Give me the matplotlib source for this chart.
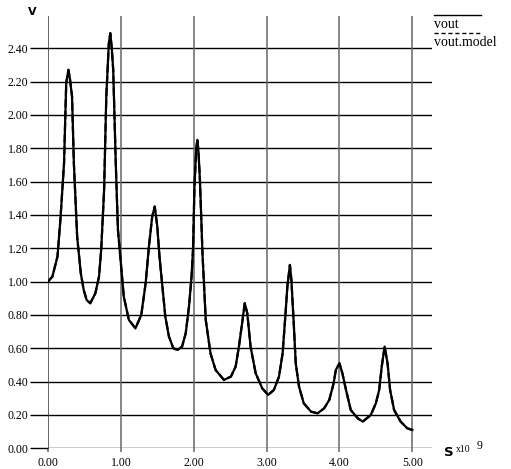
import matplotlib
matplotlib.use("Agg")
import matplotlib.pyplot as plt
from matplotlib.lines import Line2D

# time in units of 1e-9 s, voltage in V
t = [0.00, 0.06, 0.13, 0.17, 0.22, 0.25, 0.28, 0.30, 0.33, 0.355, 0.40, 0.45,
     0.49, 0.53, 0.58, 0.65, 0.70, 0.73, 0.77, 0.80, 0.835, 0.855, 0.875, 0.895,
     0.93, 0.96, 1.00, 1.04, 1.11, 1.20, 1.28, 1.34, 1.385, 1.43, 1.465, 1.50,
     1.53, 1.57, 1.61, 1.66, 1.72, 1.78, 1.84, 1.89, 1.935, 1.97, 1.99, 2.01,
     2.035, 2.05, 2.065, 2.085, 2.12, 2.165, 2.23, 2.30, 2.415, 2.51, 2.575,
     2.62, 2.67, 2.70, 2.735, 2.78, 2.85, 2.94, 3.02, 3.10, 3.17, 3.22, 3.26,
     3.285, 3.32, 3.34, 3.375, 3.40, 3.445, 3.51, 3.61, 3.70, 3.79, 3.86, 3.92,
     3.95, 4.00, 4.04, 4.09, 4.155, 4.25, 4.32, 4.43, 4.50, 4.545, 4.58, 4.62,
     4.66, 4.695, 4.75, 4.84, 4.93, 5.00]
vout = [1.00, 1.03, 1.15, 1.37, 1.71, 2.19, 2.27, 2.22, 2.11, 1.71, 1.27, 1.05,
        0.95, 0.89, 0.87, 0.93, 1.03, 1.19, 1.55, 2.11, 2.43, 2.49, 2.40, 2.27,
        1.71, 1.31, 1.11, 0.91, 0.77, 0.72, 0.80, 0.99, 1.21, 1.39, 1.45, 1.33,
        1.15, 0.97, 0.79, 0.67, 0.60, 0.59, 0.61, 0.69, 0.85, 1.03, 1.19, 1.57,
        1.80, 1.85, 1.78, 1.61, 1.17, 0.77, 0.57, 0.47, 0.41, 0.43, 0.49,
        0.61, 0.77, 0.87, 0.81, 0.61, 0.45, 0.36, 0.32, 0.35, 0.43, 0.57, 0.81,
        0.97, 1.10, 1.01, 0.73, 0.51, 0.37, 0.27, 0.22, 0.21, 0.24, 0.29, 0.39,
        0.47, 0.51, 0.45, 0.35, 0.23, 0.18, 0.16, 0.20, 0.27, 0.35, 0.49, 0.61,
        0.51, 0.35, 0.23, 0.16, 0.12, 0.11]
vout_model = vout

xticks = [0, 1, 2, 3, 4, 5]
yticks = [0.0, 0.2, 0.4, 0.6, 0.8, 1.0, 1.2, 1.4, 1.6, 1.8, 2.0, 2.2, 2.4]

W, H = 511, 469
fig = plt.figure(figsize=(W / 100, H / 100), dpi=100)
ax = fig.add_axes([48 / W, (H - 448.3) / H, (432 - 48) / W, (448.3 - 16) / H])
ax.set_xlim(0, 5.27)
ax.set_ylim(0, 2.593)

for s in ax.spines.values():
    s.set_visible(False)

# grid lines
for y in yticks:
    ax.axhline(y, color="black", lw=1.0, zorder=1)
for x in xticks:
    ax.axvline(x, color="#666666", lw=1.4 if x == 0 else 1.1, zorder=1)

ax.plot(t, vout, color="black", lw=1.6, zorder=3, solid_joinstyle="round")
ax.plot(t, vout_model, color="black", lw=1.6, ls="--", zorder=4)

serif = "Liberation Serif"
ax.set_xticks(xticks)
ax.set_xticklabels(["%.2f" % x for x in xticks], fontsize=8.5, family=serif)
ax.set_yticks(yticks)
ax.set_yticklabels(["%.2f" % y for y in yticks], fontsize=8.5, family=serif)
ax.tick_params(axis="y", length=13, width=1.0, color="black", pad=1)
ax.tick_params(axis="x", length=3, width=1.1, color="#666666", pad=3)

# axis unit labels
fig.text(28 / W, 1 - 12 / H, "V", fontsize=8, fontweight="bold",
         family="DejaVu Sans", va="center", ha="left")
fig.text(444 / W, 1 - 452 / H, "S", fontsize=9.5, fontweight="bold",
         family="DejaVu Sans", va="center", ha="left")
fig.text(456 / W, 1 - 449 / H, "x10", fontsize=7, family=serif,
         va="center", ha="left")
fig.text(477 / W, 1 - 446 / H, "9", fontsize=8.5, family=serif,
         va="center", ha="left")

# legend
fig.add_artist(Line2D([434 / W, 481 / W], [1 - 15 / H, 1 - 15 / H],
                      transform=fig.transFigure, color="black", lw=1.0))
fig.text(434 / W, 1 - 24 / H, "vout", fontsize=10, family=serif,
         va="center", ha="left")
fig.add_artist(Line2D([434 / W, 481 / W], [1 - 33 / H, 1 - 33 / H],
                      transform=fig.transFigure, color="black", lw=1.0,
                      ls=(0, (3, 2))))
fig.text(434 / W, 1 - 43 / H, "vout.model", fontsize=10, family=serif,
         va="center", ha="left")

fig.savefig("out.png", dpi=100)
